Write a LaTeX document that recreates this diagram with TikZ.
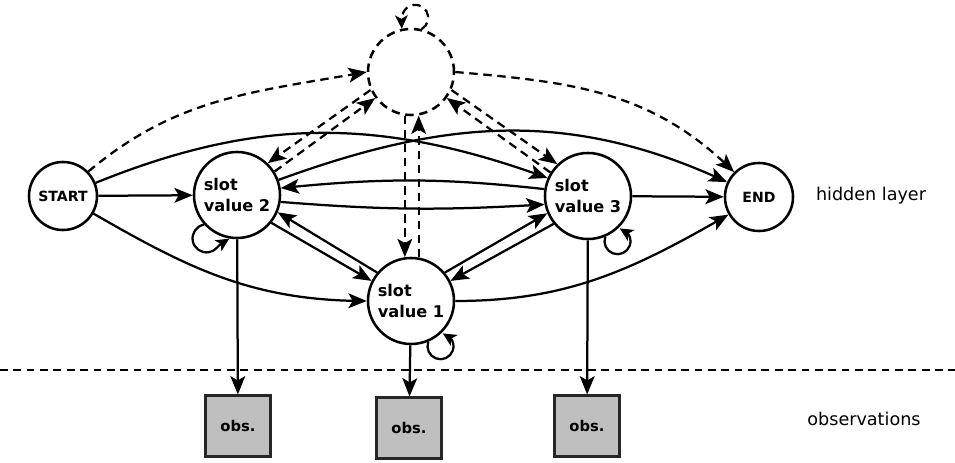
\documentclass[tikz,border=0pt]{standalone}
\usepackage{fontspec}
\setmainfont{DejaVu Sans}
\usetikzlibrary{positioning, arrows.meta, bending}

\begin{document}
\begin{tikzpicture}[x=0.025cm, y=0.025cm,
    state/.style={circle, draw, line width=1.8pt, minimum size=2.15cm, inner sep=0pt,
      align=left, font=\fontsize{11.5}{14.5}\selectfont\bfseries},
    term/.style={circle, draw, line width=1.8pt, minimum size=1.7cm, inner sep=0pt,
      font=\fontsize{10}{11}\selectfont\bfseries},
    obsbox/.style={rectangle, draw=black!85, fill=black!25, line width=1.6pt,
      minimum width=1.62cm, minimum height=1.52cm, font=\fontsize{10.5}{12}\selectfont\bfseries},
    arr/.style={-{Stealth[length=13pt, width=10.5pt, inset=3pt]}, line width=1.6pt},
    darr/.style={arr, dash pattern=on 6pt off 4pt},
    larr/.style={-{Stealth[length=9.5pt, width=9pt, inset=2.5pt]}, line width=1.6pt},
    lbl/.style={font=\fontsize{12.5}{14}\selectfont}]

  \useasboundingbox (0,0) rectangle (955,462);

  % Draw hidden states
  \node[term] (start) at (63,266) {START};
  \node[state] (sv2) at (237,267) {slot\\value 2};
  \node[state] (sv1) at (411,161) {slot\\value 1};
  \node[state] (sv3) at (588,266) {slot\\value 3};
  \node[term] (stop) at (759,265) {END};
  \node[state, dash pattern=on 6pt off 4pt] (dummy) at (411,390) {};

  % Draw solid transitions
  \draw[arr] (start) -- (sv2);
  \draw[arr] (start.22) to[out=22, in=160] (sv3.156);
  \draw[arr] (start.-30) to[out=-30, in=180] (sv1.west);
  \draw[arr] (sv2.20) to[out=20, in=155] (stop.155);
  \draw[arr] (sv1.east) to[out=0, in=210] (stop.210);
  \draw[arr] (sv3) -- (stop);
  \draw[arr] (sv3.171) to[bend right=6] (sv2.9);
  \draw[arr] (sv2.-9) to[bend right=4] (sv3.191);
  \draw[arr] (sv2.-39) -- (sv1.153);
  \draw[arr] (sv1.140) -- (sv2.-23);
  \draw[arr] (sv1.40) -- (sv3.203);
  \draw[arr] (sv3.219) -- (sv1.27);

  % Self loops
  \draw[larr] (sv2.-138) arc[start angle=100, end angle=320, radius=14] to[out=50, in=215] (sv2.-100);
  \draw[larr] (sv3.-67) arc[start angle=160, end angle=440, radius=13];
  \draw[larr] (sv1.-67) arc[start angle=160, end angle=440, radius=13];

  % Draw dashed transitions
  \draw[darr] (start.44) to[out=40, in=190] (dummy.west);
  \draw[darr] (dummy.east) to[out=-5, in=135] (stop.135);
  \draw[darr] (dummy.204) -- (sv2.46);
  \draw[darr] (sv2.32) -- (dummy.216);
  \draw[darr] (dummy.336) -- (sv3.134);
  \draw[darr] (sv3.148) -- (dummy.324);
  \draw[darr] (dummy.262) -- (sv1.98);
  \draw[darr] (sv1.80) -- (dummy.280);
  \draw[larr, dash pattern=on 6pt off 4pt] (dummy.76) arc[start angle=-60, end angle=170, radius=13] to[out=260, in=125] (dummy.102);

  % Separator between layers
  \draw[line width=1.1pt, dash pattern=on 5.5pt off 4pt] (0,92) -- (955,92);

  % Observations
  \foreach \i/\x/\y/\s in {1/238/36/sv2, 2/409/34/sv1, 3/587/36/sv3} {
    \node[obsbox] (obs\i) at (\x,\y) {obs.};
    \draw[arr] (\s) -- (obs\i);
  }

  % Layer labels
  \node[lbl] (hid) at (871,266) {hidden layer};
  \node[lbl] (obsl) at (864,43) {observations};
\end{tikzpicture}
\end{document}
